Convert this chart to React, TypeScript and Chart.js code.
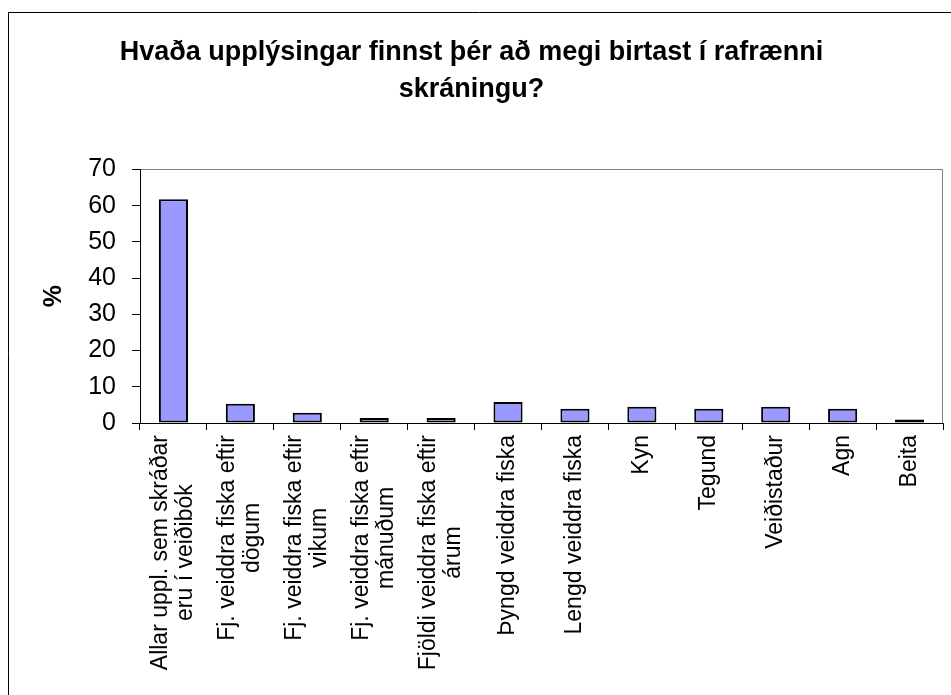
import { useEffect, useRef } from "react";
import { Chart, registerables } from "chart.js";

Chart.register(...registerables);

const FONT = '"Liberation Sans", Arial, Helvetica, sans-serif';

const titleLines: string[] = [
  "Hvaða upplýsingar finnst þér að megi birtast í rafrænni",
  "skráningu?",
];

const yAxisTitle = "%";

const categories: string[][] = [
  ["Allar uppl. sem skráðar", "eru í veiðibók"],
  ["Fj. veiddra fiska eftir", "dögum"],
  ["Fj. veiddra fiska eftir", "vikum"],
  ["Fj. veiddra fiska eftir", "mánuðum"],
  ["Fjöldi veiddra fiska eftir", "árum"],
  ["Þyngd veiddra fiska"],
  ["Lengd veiddra fiska"],
  ["Kyn"],
  ["Tegund"],
  ["Veiðistaður"],
  ["Agn"],
  ["Beita"],
];

const values: number[] = [61.8, 5.3, 2.8, 1.4, 1.4, 5.8, 3.9, 4.5, 3.9, 4.5, 3.9, 1.0];

const yMin = 0;
const yMax = 70;
const yStep = 10;

const decorPlugin = {
  id: "decor",
  beforeDraw(chart: any) {
    const ctx = chart.ctx as CanvasRenderingContext2D;
    ctx.save();
    ctx.fillStyle = "#ffffff";
    ctx.fillRect(0, 0, chart.width, chart.height);
    // outer frame
    ctx.strokeStyle = "#000000";
    ctx.lineWidth = 1;
    ctx.beginPath();
    ctx.moveTo(chart.width, 12.5);
    ctx.lineTo(8.5, 12.5);
    ctx.lineTo(8.5, chart.height);
    ctx.stroke();
    // plot area border
    const a = chart.chartArea;
    ctx.strokeStyle = "#808080";
    ctx.strokeRect(Math.round(a.left) + 0.5, Math.round(a.top) + 0.5, Math.round(a.right - a.left) - 1, Math.round(a.bottom - a.top));
    ctx.restore();
  },
  afterDraw(chart: any) {
    const ctx = chart.ctx as CanvasRenderingContext2D;
    const xs = chart.scales.x;
    ctx.save();
    ctx.font = `23px ${FONT}`;
    ctx.fillStyle = "#000000";
    ctx.textAlign = "center";
    ctx.textBaseline = "middle";
    const lineH = 25;
    const top = xs.top + 12;
    categories.forEach((lines, i) => {
      const x = xs.getPixelForValue(i);
      const maxW = Math.max(...lines.map((l) => ctx.measureText(l).width));
      const cy = top + maxW / 2;
      lines.forEach((line, j) => {
        const off = (j - (lines.length - 1) / 2) * lineH;
        ctx.save();
        ctx.translate(x + off, cy);
        ctx.rotate(-Math.PI / 2);
        ctx.fillText(line, 0, 0);
        ctx.restore();
      });
    });
    ctx.restore();
  },
};

export default function App() {
  const ref = useRef<HTMLCanvasElement>(null);
  useEffect(() => {
    document.body.style.margin = "0";
    document.body.style.overflow = "hidden";
    const canvas = ref.current!;
    const chart = new Chart(canvas, {
      type: "bar",
      data: {
        labels: categories.map((c) => c.join(" ")),
        datasets: [
          {
            data: values,
            backgroundColor: "#9999FF",
            borderColor: "#000000",
            borderWidth: 2,
            borderSkipped: false,
            categoryPercentage: 1,
            barPercentage: 0.435,
          },
        ],
      },
      options: {
        animation: false,
        responsive: false,
        devicePixelRatio: 1,
        layout: { padding: { left: 0, right: 8, top: 0, bottom: 0 } },
        plugins: {
          legend: { display: false },
          tooltip: { enabled: false },
          title: {
            display: true,
            text: titleLines,
            color: "#000000",
            font: { family: FONT, size: 27, weight: "bold", lineHeight: 1.36 },
            padding: { top: 34, bottom: 62 },
          },
        },
        scales: {
          x: {
            type: "category",
            offset: true,
            afterFit: (s: any) => {
              s.height = 272;
            },
            ticks: { display: false },
            grid: {
              display: true,
              offset: true,
              drawOnChartArea: false,
              drawTicks: true,
              tickLength: 7,
              color: "#000000",
            },
            border: { display: true, color: "#000000", width: 1 },
          },
          y: {
            min: yMin,
            max: yMax,
            afterFit: (s: any) => {
              s.width = 140;
            },
            ticks: {
              stepSize: yStep,
              color: "#000000",
              padding: 16,
              font: { family: FONT, size: 25 },
            },
            grid: {
              display: true,
              drawOnChartArea: false,
              drawTicks: true,
              tickLength: 8,
              color: "#000000",
            },
            border: { display: true, color: "#000000", width: 1 },
            title: {
              display: true,
              text: yAxisTitle,
              color: "#000000",
              font: { family: FONT, size: 25, weight: "bold" },
              padding: { top: 39, bottom: 0 },
            },
          },
        },
      },
      plugins: [decorPlugin],
    });
    return () => chart.destroy();
  }, []);
  return (
    <div style={{ width: 951, height: 695 }}>
      <canvas ref={ref} width={951} height={695} style={{ display: "block" }} />
    </div>
  );
}
